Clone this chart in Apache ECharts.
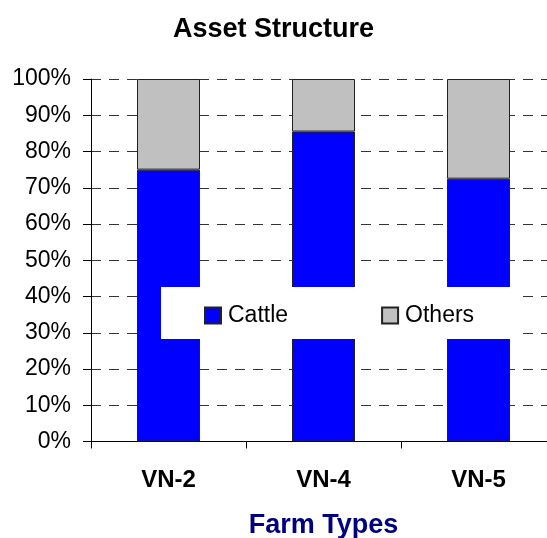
<!DOCTYPE html>
<html>
<head>
<meta charset="utf-8">
<script src="https://cdn.jsdelivr.net/npm/echarts@6/dist/echarts.min.js"></script>
<style>
html,body{margin:0;padding:0;background:#fff;}
#c{width:547px;height:538px;}
</style>
</head>
<body>
<div id="c"></div>
<script>
var categories = ['VN-2', 'VN-4', 'VN-5'];
var cattle = [75, 85.5, 72.5];
var others = [25, 14.5, 27.5];
var yTicks = [0, 10, 20, 30, 40, 50, 60, 70, 80, 90, 100];

var FONT = 'Liberation Sans, Arial, sans-serif';
var chart = echarts.init(document.getElementById('c'), null, {renderer: 'canvas'});
chart.setOption({
  animation: false,
  backgroundColor: '#fff',
  title: {
    text: 'Asset Structure',
    left: 'center',
    top: 16,
    padding: 0,
    textStyle: {fontFamily: FONT, fontSize: 27, fontWeight: 'bold', color: '#000'}
  },
  legend: {
    left: 161,
    top: 287,
    padding: [17, 43, 12, 43],
    backgroundColor: '#fff',
    itemWidth: 16,
    itemHeight: 16,
    itemGap: 93,
    icon: 'rect',
    textStyle: {fontFamily: FONT, fontSize: 23, color: '#000', padding: [0, 0, 0, 2]},
    data: ['Cattle', 'Others']
  },
  grid: {left: 91, top: 79, width: 465, height: 362.5, outerBoundsMode: 'none', containLabel: false},
  xAxis: {
    type: 'category',
    data: categories,
    name: 'Farm Types',
    nameLocation: 'middle',
    nameGap: 71,
    nameTextStyle: {fontFamily: FONT, fontSize: 27, fontWeight: 'bold', color: '#000080'},
    axisLine: {lineStyle: {color: '#000', width: 1}},
    axisTick: {show: true, length: 7, lineStyle: {color: '#000'}},
    axisLabel: {fontFamily: FONT, fontSize: 24, fontWeight: 'bold', color: '#000', margin: 27}
  },
  yAxis: {
    type: 'value',
    min: 0,
    max: 100,
    interval: 10,
    axisLine: {show: true, lineStyle: {color: '#000', width: 1}},
    axisTick: {show: true, length: 8, lineStyle: {color: '#000'}},
    axisLabel: {
      fontFamily: FONT, fontSize: 23, color: '#000', margin: 20,
      formatter: function (v) { return yTicks.indexOf(v) >= 0 ? v + '%' : ''; }
    },
    splitLine: {show: true, lineStyle: {color: '#333', width: 1, type: [10, 8]}}
  },
  series: [
    {
      name: 'Cattle', type: 'bar', stack: 'a', data: cattle, barWidth: 63,
      itemStyle: {color: '#0000FF', borderColor: '#222', borderWidth: 1}
    },
    {
      name: 'Others', type: 'bar', stack: 'a', data: others, barWidth: 63,
      itemStyle: {color: '#C0C0C0', borderColor: '#222', borderWidth: 1}
    }
  ]
});
</script>
</body>
</html>
